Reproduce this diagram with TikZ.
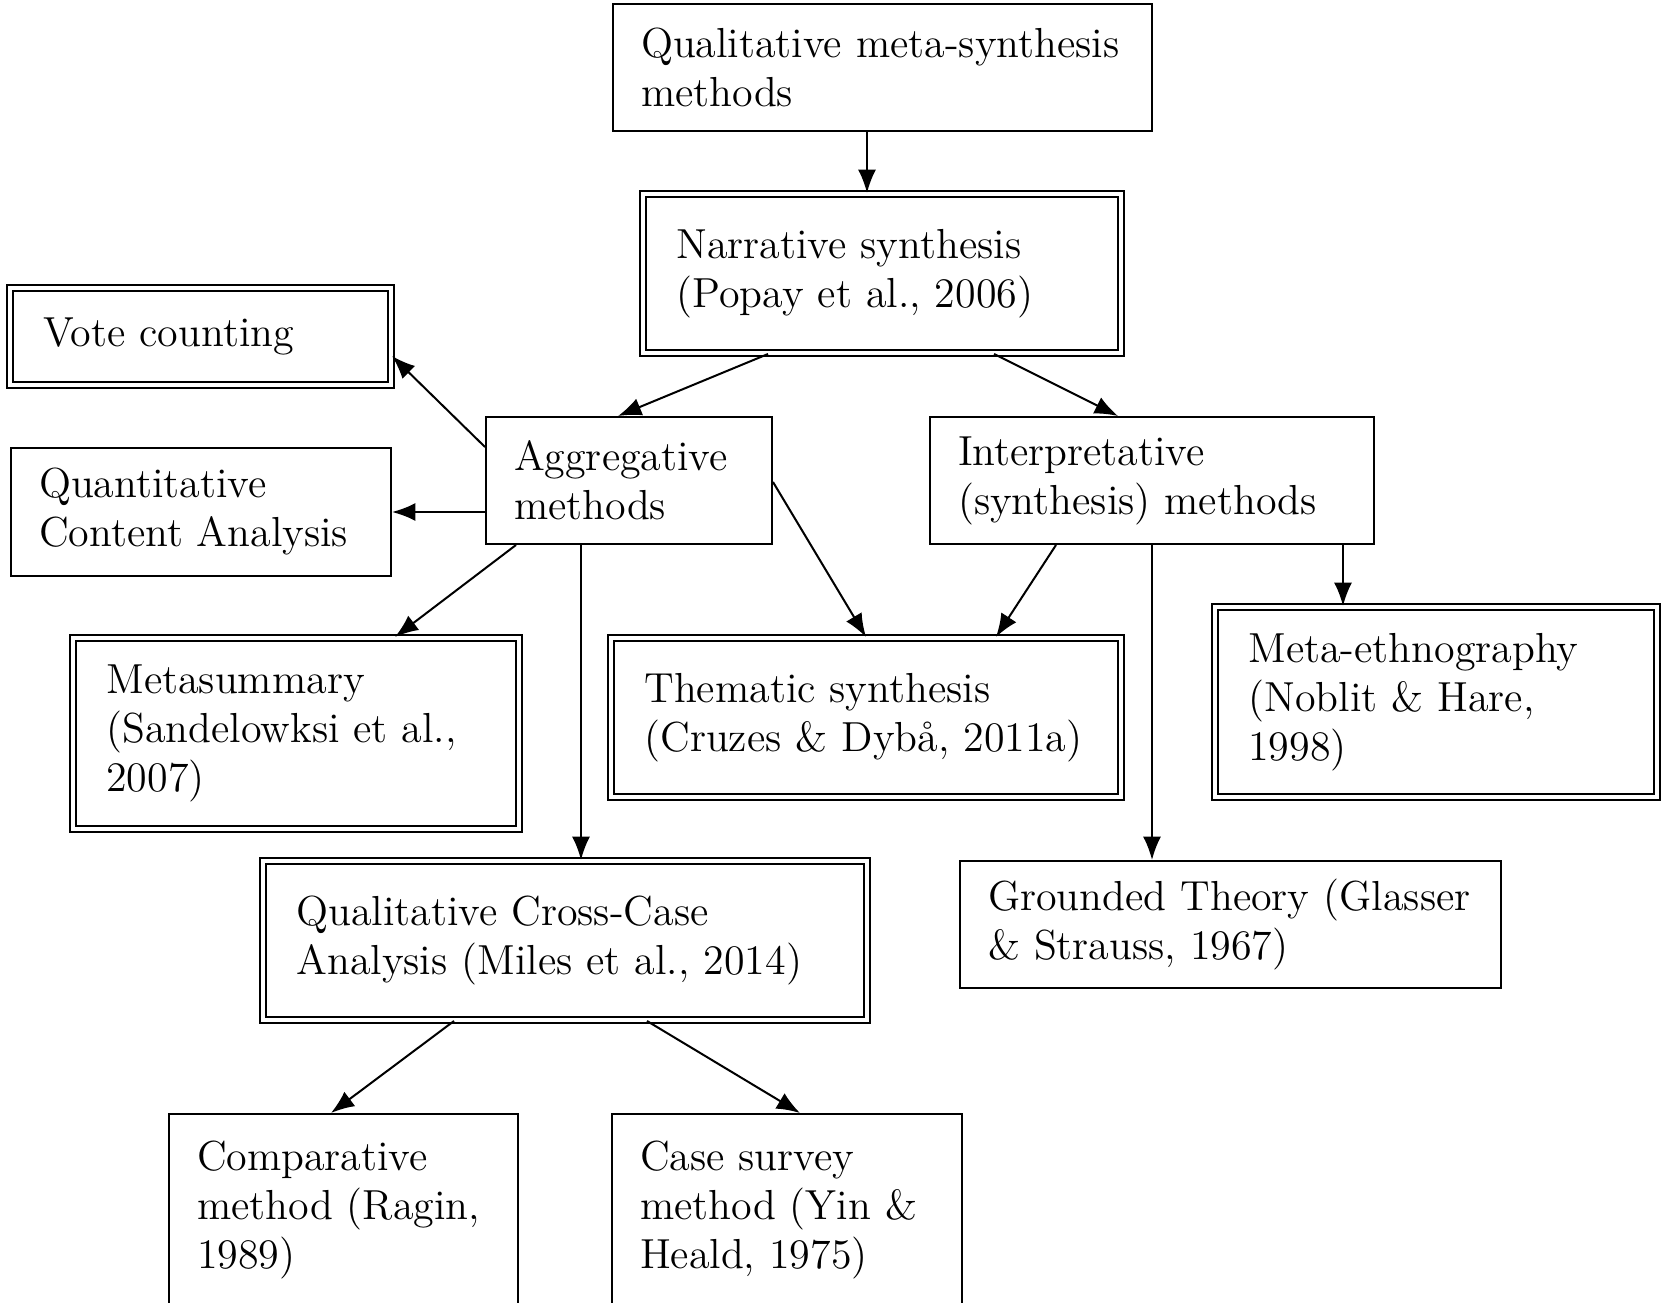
\documentclass[tikz,border=0pt]{standalone}
\usepackage{tikz}
\usetikzlibrary{arrows.meta}
\tikzset{plainbox/.style={draw, line width=0.6pt, align=left, inner xsep=8.4pt, font=\fontsize{12.6}{14.7}\selectfont}}
\tikzset{dblbox/.style={plainbox, double, double distance=1pt, inner xsep=10pt}}
\tikzset{openbox/.style={plainbox, anchor=north, inner ysep=8pt, text depth=70pt}}

\begin{document}
\begin{tikzpicture}[>={Latex[length=7pt,width=5.4pt]}, x=0.3pt, y=-0.3pt, line width=0.6pt]
    \useasboundingbox (0,0) rectangle (1662,1303);
    \node[plainbox, text width=144.9pt, minimum height=38.1pt] (qms) at (882.5,67.5) {Qualitative meta-synthesis\\methods};
    \node[dblbox, text width=123.4pt, minimum height=47.7pt] (narr) at (882,273.5) {Narrative synthesis\\(Popay et al., 2006)};
    \node[dblbox, text width=94.3pt, minimum height=29.1pt] (vote) at (200.5,336.5) {Vote counting};
    \node[plainbox, text width=69pt, minimum height=38.1pt] (aggr) at (629,480.5) {Aggregative\\methods};
    \node[plainbox, text width=116.4pt, minimum height=38.1pt] (interp) at (1152,480.5) {Interpretative\\(synthesis) methods};
    \node[plainbox, text width=97.2pt, minimum height=38.4pt] (qca) at (201,512) {Quantitative\\Content Analysis};
    \node[dblbox, text width=113.8pt, minimum height=57.3pt] (meta) at (296,733.5) {Metasummary\\(Sandelowksi et al.,\\2007)};
    \node[dblbox, text width=133pt, minimum height=47.7pt] (them) at (866,717.5) {Thematic synthesis\\(Cruzes \& Dybå, 2011a)};
    \node[dblbox, text width=112.6pt, minimum height=57pt] (ethno) at (1436,702) {Meta-ethnography\\(Noblit \& Hare,\\1998)};
    \node[dblbox, text width=161.2pt, minimum height=47.7pt] (qcca) at (565,940.5) {Qualitative Cross-Case\\Analysis (Miles et al., 2014)};
    \node[plainbox, text width=145.5pt, minimum height=38.1pt] (ground) at (1230.5,924.5) {Grounded Theory (Glasser\\\& Strauss, 1967)};
    \node[openbox, text width=87.9pt] (comp) at (343.5,1113) {Comparative\\method (Ragin,\\1989)};
    \node[openbox, text width=88.2pt] (case) at (787,1113) {Case survey\\method (Yin \&\\Heald, 1975)};

    \draw[->] (qms.south -| 867,0) -- (narr.north -| 867,0);
    \draw[->] (narr.south -| 768,0) -- (aggr.north -| 618,0);
    \draw[->] (narr.south -| 994,0) -- (interp.north -| 1118,0);

    \draw[->] (aggr.west |- 0,447) -- (vote.east |- 0,356);
    \draw[->] (aggr.west |- qca.east) -- (qca.east);
    \draw[->] (aggr.south -| 516,0) -- (meta.north -| 395,0);
    \draw[->] (aggr.south -| 581,0) -- (qcca.north -| 581,0);
    \draw[->] (aggr.east |- 0,482) -- (them.north -| 866,0);

    \draw[->] (interp.south -| 1056,0) -- (them.north -| 996,0);
    \draw[->] (interp.south) -- (interp.south |- ground.north);
    \draw[->] (interp.south -| 1343,0) -- (ethno.north -| 1343,0);

    \draw[->] (qcca.south -| 454,0) -- (comp.north -| 331,0);
    \draw[->] (qcca.south -| 647,0) -- (case.north -| 800,0);
\end{tikzpicture}
\end{document}
